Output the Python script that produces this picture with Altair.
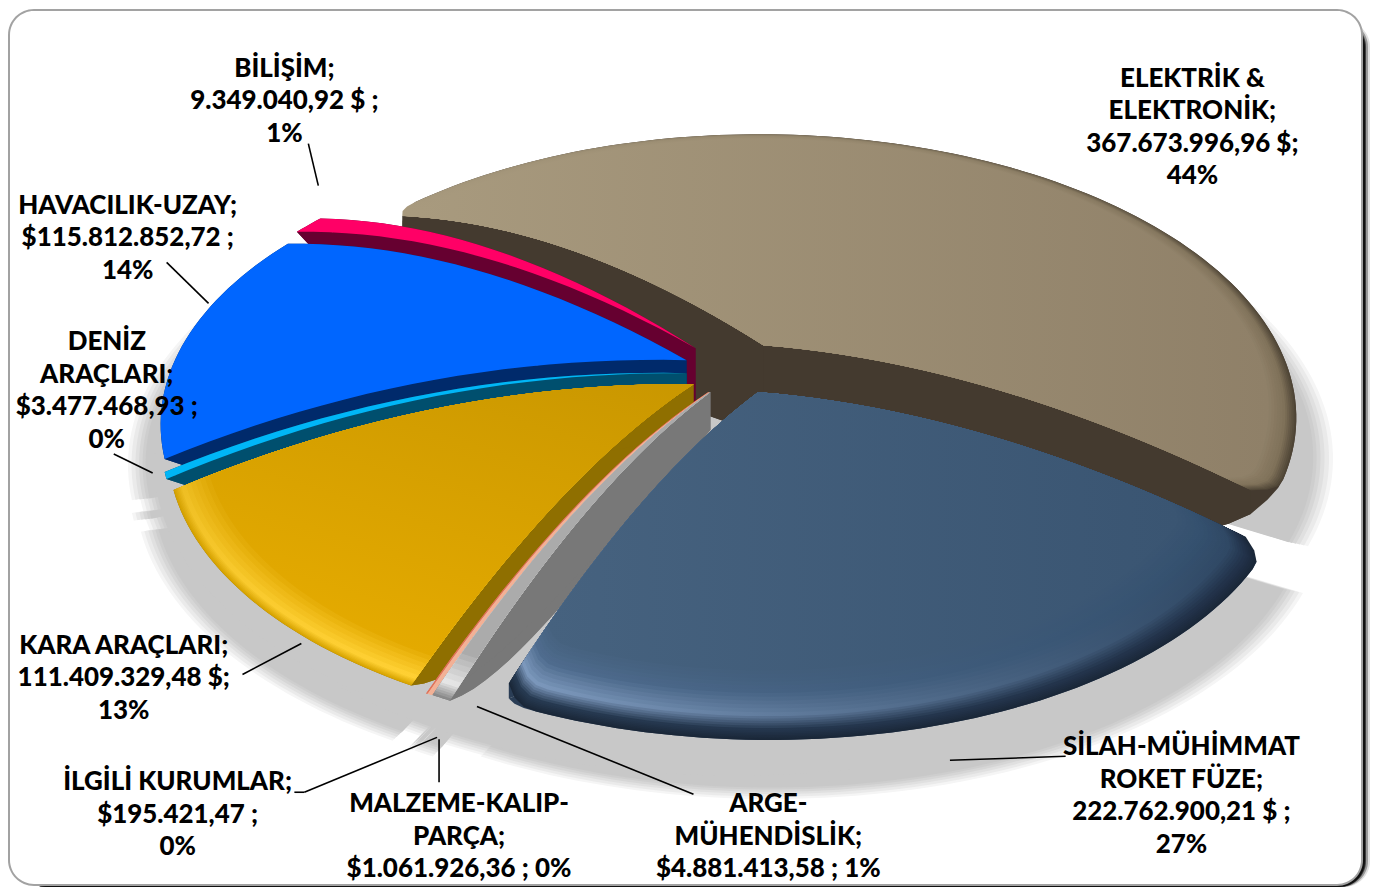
import numpy as np
import pandas as pd
import altair as alt

names = ["ELEKTRİK & ELEKTRONİK", "SİLAH-MÜHİMMAT ROKET FÜZE", "ARGE-MÜHENDİSLİK", "MALZEME-KALIP-PARÇA",
         "İLGİLİ KURUMLAR", "KARA ARAÇLARI", "DENİZ ARAÇLARI", "HAVACILIK-UZAY", "BİLİŞİM"]
values = [367673996.96, 222762900.21, 4881413.58, 1061926.36, 195421.47, 111409329.48, 3477468.93, 115812852.72, 9349040.92]

label_texts = [
    "BİLİŞİM;\n9.349.040,92 $ ;\n1%",
    "ELEKTRİK &\nELEKTRONİK;\n367.673.996,96 $;\n44%",
    "HAVACILIK-UZAY;\n$115.812.852,72 ;\n14%",
    "DENİZ\nARAÇLARI;\n$3.477.468,93 ;\n0%",
    "KARA ARAÇLARI;\n111.409.329,48 $;\n13%",
    "İLGİLİ KURUMLAR;\n$195.421,47 ;\n0%",
    "MALZEME-KALIP-\nPARÇA;\n$1.061.926,36 ; 0%",
    "ARGE-\nMÜHENDİSLİK;\n$4.881.413,58 ; 1%",
    "SİLAH-MÜHİMMAT\nROKET FÜZE;\n222.762.900,21 $ ;\n27%",
]

# ---------- layout (page pixels) ----------
M = 8
label_pos = [(285, 68), (1195, 78), (128, 205), (107, 342), (124, 646), (178, 783), (460, 805), (770, 805), (1184, 748)]
leaders = [((309, 143), (319, 185)), ((167, 262), (209, 303)), ((114, 454), (153, 473)), ((243, 675), (302, 644)),
           ((295, 793), (305, 793)), ((305, 793), (438, 738)), ((440, 783), (440, 740)), ((695, 795), (478, 707)),
           ((1068, 757), (952, 761))]

fractions = np.array(values) / sum(values)
ends = np.cumsum(fractions) * 2 * np.pi
starts = ends - fractions * 2 * np.pi


def homography(src, targets):
    rows, rhs = [], []
    for (u, v), (px, py) in zip(src, targets):
        rows.append([u, v, 1, 0, 0, 0, -u * px, -v * px]); rhs.append(px)
        rows.append([0, 0, 0, u, v, 1, -u * py, -v * py]); rhs.append(py)
    h = np.linalg.solve(np.array(rows), np.array(rhs))
    return np.append(h, 1).reshape(3, 3)


def unit(a):
    return (np.sin(a), -np.cos(a))


H = homography([unit(starts[0]), unit(starts[1]), unit(starts[5]), unit(starts[7])],
               [(349, 240), (1235, 526), (442, 672), (202, 469)])


def hp(u, v):
    p = H @ np.array([u, v, 1.0])
    return np.array([p[0] / p[2], p[1] / p[2]])


H0 = hp(0, 0)
CENTER = np.array([725, 370])
offset = [np.array(o, dtype=float) for o in
          [(40, -25), (35, 22), (-13, 22), (-14, 22), (-15, 22), (-30, 14), (-37, 3), (-37, -10), (-28, -22)]]
wall_h = [90, 50, 38, 38, 38, 50, 50, 50, 55]
DOME = 28
ROUNDED = (0, 1)


def base(i, r, a):
    return hp(r * np.sin(a), -r * np.cos(a)) + offset[i] + (1 - r) * (CENTER - H0)


def top(i, r, a):
    p = base(i, r, a)
    p[1] -= DOME * 4 * r * (1 - r)
    return p


def bottom(i, r, a):
    p = base(i, r, a)
    p[1] += wall_h[i] * (1 - r ** 6)
    return p


def rim_factor(i, a):
    if i not in ROUNDED:
        return 1.0
    w = np.radians(4)
    d = min(a - starts[i], ends[i] - a)
    return 1 - 0.04 * (1 - d / w) ** 2 if d < w else 1.0


def ring(pts):
    pts = [[round(float(p[0]) - M, 2), round(float(p[1]) - M, 2)] for p in pts]
    return pts + [pts[0]]


def sector(i, rm, fn=top):
    a0, a1 = starts[i], ends[i]
    rs = np.linspace(0, rm, 24)
    arc = np.linspace(a0, a1, max(6, int((a1 - a0) * 40)))
    pts = [fn(i, r * rim_factor(i, a0), a0) for r in rs]
    pts += [fn(i, rm * rim_factor(i, a), a) for a in arc]
    pts += [fn(i, r * rim_factor(i, a1), a1) for r in rs[::-1]]
    return ring(pts)


def edge_quad(i, a):
    rs = np.linspace(0, rim_factor(i, a), 24)
    return ring([top(i, r, a) for r in rs] + [bottom(i, r, a) for r in rs[::-1]])


def feature(rings):
    return {"type": "Feature", "properties": {}, "geometry": {"type": "Polygon", "coordinates": [rings]}}


def geo(rings_list, fill):
    return alt.Chart(alt.InlineData(values=[feature(r) for r in rings_list])).mark_geoshape(
        filled=True, fill=fill, strokeWidth=0
    ).project(type="identity", scale=1, translate=[0, 0])


def grad(c0, c1, d):
    if c0 == c1:
        return c0
    return alt.LinearGradient(gradient="linear", x1=d[0], y1=d[1], x2=d[2], y2=d[3],
                              stops=[alt.GradientStop(color=c0, offset=0), alt.GradientStop(color=c1, offset=1)])


def mix(a, b, t):
    ca = [int(a[k:k + 2], 16) for k in (1, 3, 5)]
    cb = [int(b[k:k + 2], 16) for k in (1, 3, 5)]
    return "#%02x%02x%02x" % tuple(round(x + (y - x) * t) for x, y in zip(ca, cb))


HORIZ = (0, 0, 1, 0)
DIAG = (1, 0, 0.45, 1)
wall_col = ["#443a2f", "#2a3d55", "#787878", "#f2b196", "#e0735a", "#8f6f00", "#004f6e", "#002a6b", "#660030"]
shading = {
    0: (HORIZ, [(1.0, "#a89a7e", "#4e4435"), (0.98, "#a89a7e", "#7f7159"), (0.95, "#a89a7e", "#8f8068")]),
    1: (HORIZ, [(1.0, "#1a2738", "#1a2738"), (0.98, "#263950", "#22324a"), (0.95, "#7c98bc", "#2f4864"),
                (0.90, "#4f6c8e", "#34506e"), (0.85, "#46627f", "#3a5572")]),
    2: (HORIZ, [(1.0, "#8a8a8a", "#8a8a8a"), (0.97, "#e6e6e6", "#b0b0b0"), (0.9, "#ababab", "#ababab")]),
    3: (HORIZ, [(1.0, "#f2b196", "#f2b196")]),
    4: (HORIZ, [(1.0, "#e0735a", "#e0735a")]),
    5: (DIAG, [(1.0, "#c99700", "#d8a400"), (0.985, "#c99700", "#ffd033"), (0.93, "#c99700", "#e4aa00")]),
    6: (HORIZ, [(1.0, "#00b6f7", "#00b6f7")]),
    7: (HORIZ, [(1.0, "#0066ff", "#0066ff")]),
    8: (HORIZ, [(1.0, "#ff0066", "#ff0066")]),
}
draw_order = [0, 8, 7, 6, 5, 4, 3, 2, 1]
layers = []


def rect(x0, y0, x1, y1, fill, radius):
    return alt.Chart(pd.DataFrame({"a": [0]})).mark_rect(fill=fill, cornerRadius=radius).encode(
        x=alt.value(x0 - M), x2=alt.value(x1 - M), y=alt.value(y0 - M), y2=alt.value(y1 - M))


FRAME_B = 888
for grow, col in [(8, "#e0e0e0"), (6, "#9a9a9a"), (4, "#404040"), (3, "#101010")]:
    layers.append(rect(20, 20, 1365 + grow, FRAME_B, col, 26))
layers.append(rect(8, 8, 1366, FRAME_B - 1, "#a2a2a2", 26))
layers.append(rect(10, 10, 1364, FRAME_B - 3, "#ffffff", 24))


def band(first, last, grow, shift):
    arc = np.linspace(first, last, 50)
    return ring([CENTER] + [hp(grow * np.sin(a), -grow * np.cos(a)) + np.array(shift) for a in arc])


for grow, col in [(1.065, "#f5f5f5"), (1.058, "#eaeaea"), (1.05, "#e0e0e0"), (1.043, "#d6d6d6"), (1.036, "#cecece"), (1.03, "#c8c8c8")]:
    rings = []
    for i in range(len(values)):
        arc = np.linspace(starts[i], ends[i], max(4, int((ends[i] - starts[i]) * 40)))
        pts = [CENTER + offset[i]] + [hp(grow * np.sin(a), -grow * np.cos(a)) + offset[i] for a in arc]
        rings.append(ring([p + np.array((0, 38)) for p in pts]))
    # continuous bands under the front-left slices
    rings.append(band(starts[1] + np.radians(55), starts[5] + np.radians(12), grow, (0, 48)))
    rings.append(band(starts[5] + np.radians(5), starts[8], grow, (-28, 30)))
    layers.append(geo(rings, col))

for i in draw_order:
    layers.append(geo([sector(i, 1.0, bottom), edge_quad(i, starts[i]), edge_quad(i, ends[i])], wall_col[i]))
    d, stops = shading[i]
    for k, (r, c0, c1) in enumerate(stops):
        if k + 1 < len(stops):
            rn, n0, n1 = stops[k + 1]
            for t in np.linspace(0, 1, 6, endpoint=False):
                layers.append(geo([sector(i, r + (rn - r) * t)], grad(mix(c0, n0, t), mix(c1, n1, t), d)))
        else:
            layers.append(geo([sector(i, r)], grad(c0, c1, d)))

for (p0, p1) in leaders:
    layers.append(alt.Chart(pd.DataFrame({"a": [0]})).mark_rule(color="black", strokeWidth=1.6).encode(
        x=alt.value(p0[0] - M), y=alt.value(p0[1] - M), x2=alt.value(p1[0] - M), y2=alt.value(p1[1] - M)))

for txt, (x, y) in zip(label_texts, label_pos):
    layers.append(alt.Chart(pd.DataFrame({"label": [txt]})).mark_text(
        lineBreak="\n", font="Lato", fontWeight=900, fontSize=26, lineHeight=32.6,
        align="center", baseline="middle", color="black"
    ).encode(text="label:N", x=alt.value(x - M), y=alt.value(y - M)))

chart = alt.layer(*layers).properties(
    width=1366, height=880, padding=0, autosize=alt.AutoSizeParams(type="none"), background="white"
).configure_view(strokeWidth=0)

chart.save("out.html", embed_options={"renderer": "svg", "actions": False})
